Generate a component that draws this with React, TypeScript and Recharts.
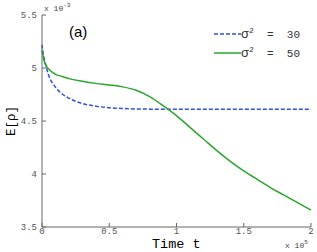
import { LineChart, Line, XAxis, YAxis, Legend } from "recharts"

const times = [0, 0.01, 0.02, 0.05, 0.1, 0.15, 0.2, 0.3, 0.4, 0.5, 0.6, 0.7, 0.8, 0.9, 1.0, 1.1, 1.2, 1.3, 1.4, 1.5, 1.6, 1.7, 1.8, 1.9, 2.0]
const sigma30 = [5.22, 5.13, 5.07, 4.93, 4.82, 4.755, 4.715, 4.665, 4.64, 4.625, 4.618, 4.614, 4.612, 4.611, 4.61, 4.61, 4.61, 4.61, 4.61, 4.61, 4.61, 4.61, 4.61, 4.61, 4.61]
const sigma50 = [5.17, 5.1, 5.05, 4.99, 4.94, 4.92, 4.9, 4.875, 4.855, 4.84, 4.822, 4.79, 4.73, 4.645, 4.55, 4.44, 4.33, 4.22, 4.12, 4.03, 3.95, 3.87, 3.8, 3.73, 3.66]
const xTicks = [0, 0.5, 1, 1.5, 2]
const yTicks = [3.5, 4, 4.5, 5, 5.5]

const data = times.map((t, i) => ({ t, s30: sigma30[i], s50: sigma50[i] }))

const mono = "'Liberation Mono', 'DejaVu Sans Mono', monospace"
const axisColor = "#666"
const tickStyle = { fill: "#555", fontSize: 9, fontFamily: mono }

function LegendBox() {
  const row = (dash: string | undefined, color: string, label: string) => (
    <div style={{ display: "flex", alignItems: "center", height: 19 }}>
      <svg width={27} height={6}>
        <line x1={0} y1={3} x2={27} y2={3} stroke={color} strokeWidth={1.5} strokeDasharray={dash} />
      </svg>
      <span style={{ fontFamily: mono, fontSize: 11, color: "#333", whiteSpace: "pre" }}>
        <span style={{ fontFamily: "Arial, 'Liberation Sans', sans-serif", fontSize: 13 }}>σ</span>
        <sup style={{ fontSize: 8 }}>2</sup>{"  =  " + label}
      </span>
    </div>
  )
  return (
    <div>
      {row("4 2", "#2f4fe6", "30")}
      {row(undefined, "#2aa52a", "50")}
    </div>
  )
}

export default function App() {
  return (
    <div style={{ position: "absolute", left: 0, top: 0, width: 317, height: 252, background: "#fff" }}>
      <LineChart width={317} height={252} data={data} margin={{ top: 15, right: 6, bottom: 0, left: 0 }}>
        <XAxis
          dataKey="t"
          type="number"
          domain={[0, 2]}
          ticks={xTicks}
          height={25}
          stroke={axisColor}
          tickSize={-4}
          tickMargin={5}
          tick={tickStyle}
        />
        <XAxis xAxisId="top" dataKey="t" type="number" domain={[0, 2]} ticks={xTicks} orientation="top" height={0} stroke={axisColor} tickSize={-4} tick={false} />
        <YAxis
          type="number"
          domain={[3.5, 5.5]}
          ticks={yTicks}
          width={42}
          stroke={axisColor}
          tickSize={-4}
          tickMargin={9}
          tick={tickStyle}
        />
        <YAxis yAxisId="right" type="number" domain={[3.5, 5.5]} ticks={yTicks} orientation="right" width={0} stroke={axisColor} tickSize={-4} tick={false} />
        <Legend
          layout="horizontal"
          align="center"
          verticalAlign="middle"
          content={() => <LegendBox />}
          wrapperStyle={{ left: 214, top: 24, width: 100 }}
        />
        <Line type="monotone" dataKey="s30" stroke="#2f4fe6" strokeWidth={1.5} strokeDasharray="4 2" dot={false} isAnimationActive={false} />
        <Line type="monotone" dataKey="s50" stroke="#2aa52a" strokeWidth={1.5} dot={false} isAnimationActive={false} />
      </LineChart>

      <div style={{ position: "absolute", left: 69, top: 23, fontFamily: "Arial, 'Liberation Sans', sans-serif", fontSize: 15, color: "#000" }}>(a)</div>
      <div style={{ position: "absolute", left: 44, top: 2, fontFamily: mono, fontSize: 8, color: "#444", whiteSpace: "pre" }}>
        x 10<sup style={{ fontSize: 6 }}>-3</sup>
      </div>
      <div style={{ position: "absolute", left: 285, top: 239, fontFamily: mono, fontSize: 8, color: "#444", whiteSpace: "pre" }}>
        x 10<sup style={{ fontSize: 6 }}>5</sup>
      </div>
      <div style={{ position: "absolute", left: 152, top: 237, fontFamily: mono, fontSize: 13.5, lineHeight: "15px", color: "#000", whiteSpace: "pre" }}>Time t</div>
      <div
        style={{
          position: "absolute",
          left: 12,
          top: 121,
          transform: "translate(-50%, -50%) rotate(-90deg)",
          fontFamily: mono,
          fontSize: 12.5,
          color: "#000",
          whiteSpace: "pre",
        }}
      >
        E[ρ]
      </div>
    </div>
  )
}
